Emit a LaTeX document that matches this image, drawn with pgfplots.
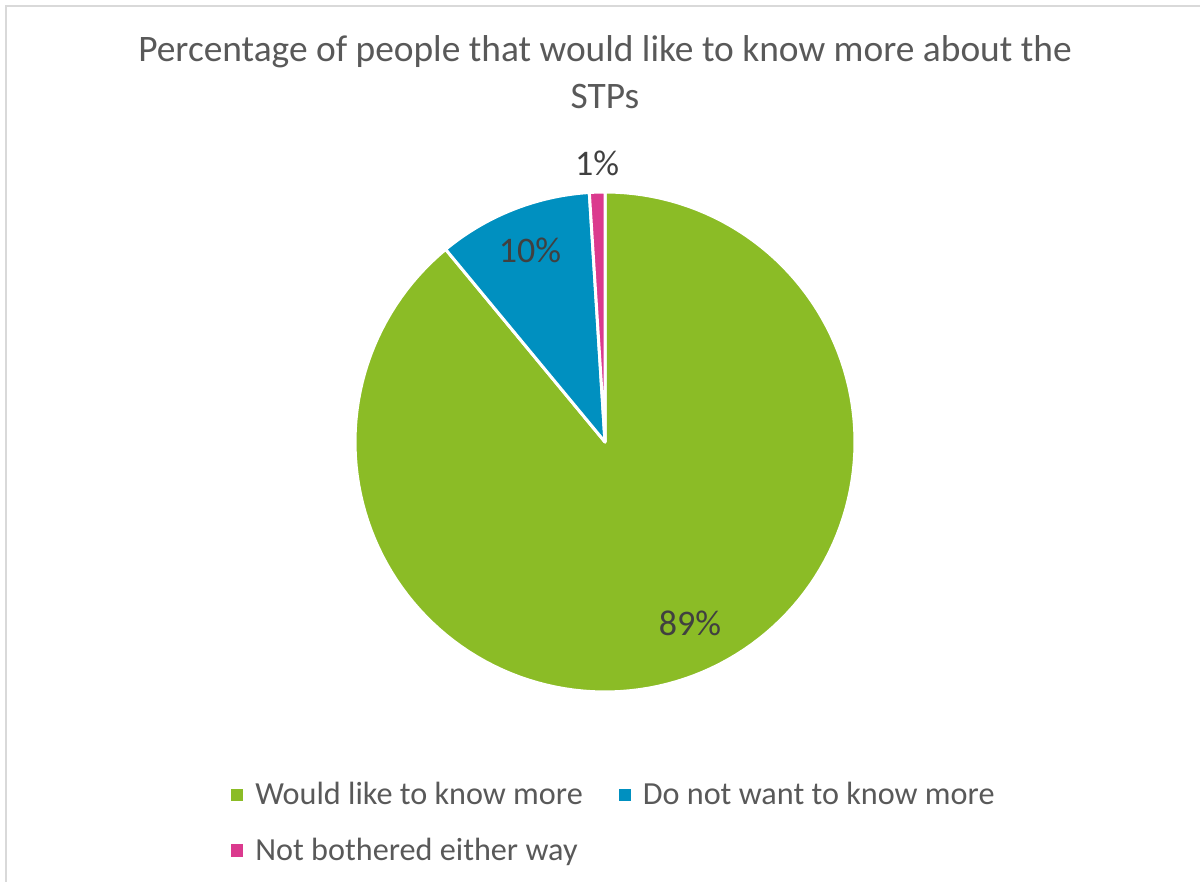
\documentclass[border=0pt]{standalone}
\usepackage{pgfplots}
\pgfplotsset{compat=1.18}
\usepackage{fontspec}
\setmainfont{Carlito}
\definecolor{cgreen}{HTML}{8BBC26}
\definecolor{cblue}{HTML}{0090C0}
\definecolor{cpink}{HTML}{DB3A8E}
\definecolor{ctext}{HTML}{595959}
\definecolor{clabel}{HTML}{404040}
\definecolor{cborder}{HTML}{D9D9D9}
% slice values (percent)
\def\vA{89}\def\vB{10}\def\vC{1}
\pgfmathsetmacro\aA{90}
\pgfmathsetmacro\aB{90-3.6*\vA}
\pgfmathsetmacro\aC{\aB-3.6*\vB}
\pgfmathsetmacro\aD{\aC-3.6*\vC}
\begin{document}
\begin{tikzpicture}
\useasboundingbox (0,0) rectangle (600pt,441pt);
\begin{axis}[
  x=0.5pt, y=0.5pt, xmin=0, xmax=1200, ymin=0, ymax=882,
  axis lines=none, ticks=none, clip=false,
  legend columns=2,
  legend image code/.code={\fill[#1,draw=none] (0pt,-3.2pt) rectangle (6pt,3.2pt);},
  legend style={draw=none, fill=none, inner sep=0pt, anchor=north west,
    at={(axis cs:231,104)}, font=\fontsize{16.1}{19}\selectfont, text=ctext,
    row sep=11pt, /tikz/every odd column/.append style={column sep=4pt},
    /tikz/every even column/.append style={column sep=16pt}},
  legend cell align=left,
]
\addplot[fill=cgreen, draw=white, line width=1.5pt, line join=round, domain=\aB:\aA, samples=150]
  ({605+250*cos(x)},{440+250*sin(x)}) -- (axis cs:605,440) -- cycle;
\addlegendentry{Would like to know more}
\addplot[fill=cblue, draw=white, line width=1.5pt, line join=round, domain=\aC:\aB, samples=40]
  ({605+250*cos(x)},{440+250*sin(x)}) -- (axis cs:605,440) -- cycle;
\addlegendentry{Do not want to know more}
\addplot[fill=cpink, draw=white, line width=1.5pt, line join=round, domain=\aD:\aC, samples=8]
  ({605+250*cos(x)},{440+250*sin(x)}) -- (axis cs:605,440) -- cycle;
\addlegendentry{Not bothered either way}
\draw[cborder, line width=1pt] (axis cs:6,-10) -- (axis cs:6,876) -- (axis cs:1210,876);
\node[text=ctext, font=\fontsize{18.7}{22}\selectfont, anchor=base] at (axis cs:605,820) {Percentage of people that would like to know more about the};
\node[text=ctext, font=\fontsize{18.7}{22}\selectfont, anchor=base] at (axis cs:605,773) {STPs};
\node[text=clabel, font=\fontsize{18}{20}\selectfont] at (axis cs:690,259) {89\%};
\node[text=clabel, font=\fontsize{18}{20}\selectfont] at (axis cs:530,632) {10\%};
\node[text=clabel, font=\fontsize{18}{20}\selectfont] at (axis cs:597,719) {1\%};
\end{axis}
\end{tikzpicture}
\end{document}
